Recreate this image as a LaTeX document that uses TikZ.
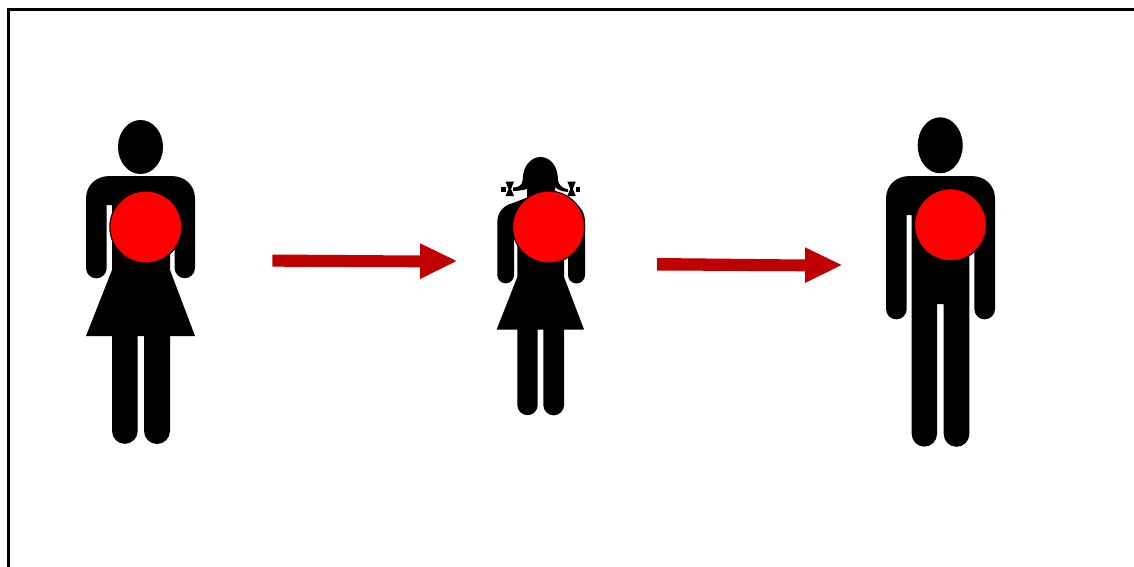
\documentclass[tikz,border=0pt]{standalone}
\definecolor{arrowred}{HTML}{C00000}
\tikzset{
  fig/.style={fill=black,draw=none},
  spot/.style={circle,fill=red,draw=black,line width=1.1pt,minimum size=72pt,inner sep=0pt,outer sep=0pt},
  flow/.style={fill=arrowred,draw=none},
  frameline/.style={draw=black,line width=3pt}
}
\begin{document}
\begin{tikzpicture}[x=1pt,y=-1pt]
\useasboundingbox (0,0) rectangle (1134,567);
% frame
\coordinate (fa) at (8,567);
\coordinate (fb) at (8,10);
\coordinate (fc) at (1134,10);
\draw[frameline] (fa) -- (fb) -- (fc);
% woman
\fill[fig] (140.5,147) ellipse [x radius=22.5,y radius=27];
\fill[fig] (86,268) -- (86,199) .. controls (86,185) and (96,176) .. (110,176) -- (171,176) .. controls (185,176) and (195,185) .. (195,199)
  -- (195,268) arc[start angle=0,end angle=180,radius=10.2] -- (174.6,205) -- (170,205) -- (170,270) -- (195,336) -- (170,336)
  -- (170,431) arc[start angle=0,end angle=180,radius=13] -- (144,336) -- (137.7,336) -- (137.7,431) arc[start angle=0,end angle=180,radius=12.85] -- (112,336) -- (86,336) -- (112,270) -- (112,205) -- (106.7,205) -- (106.7,268) arc[start angle=0,end angle=180,radius=10.35] -- cycle;
\node[spot] (s1) at (145.8,227) {};
% girl
\fill[fig] (513,187.5) .. controls (518,187.5) and (522,186) .. (522.7,180) .. controls (522.7,166) and (531,157) .. (540.5,157) .. controls (550,157) and (558,166) .. (558,180) .. controls (558.5,185) and (562,188) .. (568,189.5) -- (568,192) .. controls (562,191.5) and (558,190) .. (555,187) -- (555,204) -- (527,204) -- (527,189) .. controls (524,190) and (518,191) .. (513,191) -- cycle;
\fill[fig] (497.3,275) -- (497.3,222) .. controls (497.3,212) and (504,205) .. (513,203) -- (526,198) -- (558,193) -- (570,198) -- (575,203) .. controls (581,207) and (585,213) .. (585,222)
  -- (585,275) arc[start angle=0,end angle=180,radius=8.5] -- (568,230) -- (564,230) -- (564,277) -- (584,329.5) -- (564,329.5)
  -- (564,405) arc[start angle=0,end angle=180,radius=10.35] -- (543.3,329.5) -- (537.7,329.5) -- (537.7,405) arc[start angle=0,end angle=180,radius=10.2] -- (517.3,329.5) -- (496.7,329.5) -- (517.3,277) -- (517.3,230) -- (514,230) -- (514,275) arc[start angle=0,end angle=180,radius=8.35] -- cycle;
\fill[fig] (501,186.5) rectangle (505.5,192);
\fill[fig] (575.8,186.5) rectangle (580.3,192);
\fill[fig] (505.5,181.5) -- (514,181.5) -- (511,189) -- (514,196) -- (505.5,196) -- (508.5,189) -- cycle;
\fill[fig] (567.3,181.5) -- (575.8,181.5) -- (572.8,189) -- (575.8,196) -- (567.3,196) -- (570.3,189) -- cycle;
\node[spot] (s2) at (548.6,227) {};
% man
\fill[fig] (940.2,145.3) ellipse [x radius=22.5,y radius=28];
\fill[fig] (886,309) -- (886,199) .. controls (886,185) and (896,176) .. (910,176) -- (971,176) .. controls (985,176) and (995,185) .. (995,199)
  -- (995,309) arc[start angle=0,end angle=180,radius=10.35] -- (974.3,215) -- (969.3,215) -- (969.3,434) arc[start angle=0,end angle=180,radius=12.8] -- (943.7,304) -- (937,304) -- (937,434) arc[start angle=0,end angle=180,radius=12.65] -- (911.7,215) -- (906.7,215) -- (906.7,309) arc[start angle=0,end angle=180,radius=10.35] -- cycle;
\node[spot] (s3) at (950.5,224.8) {};
% arrows
\fill[flow] (272.3,254.5) -- (420,255.5) -- (420,243.3) -- (456.5,261) -- (420,279) -- (420,267.3) -- (272.3,266.7) -- cycle;
\fill[flow] (657,258) -- (805,259.5) -- (805,247.3) -- (841.5,265) -- (805,283) -- (805,271.3) -- (657,270.5) -- cycle;
\end{tikzpicture}
\end{document}
